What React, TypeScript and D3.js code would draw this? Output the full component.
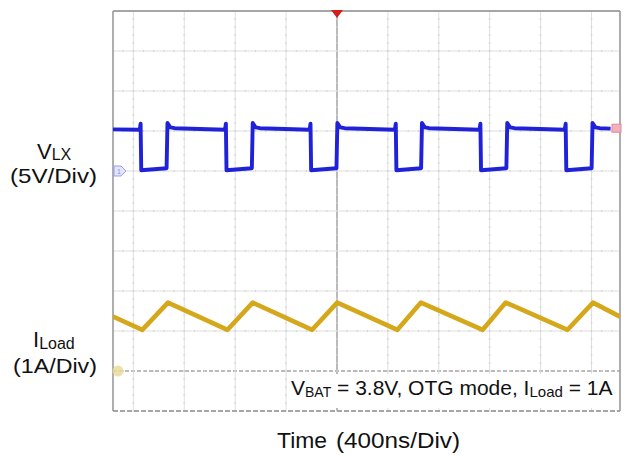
import React from 'react';
import * as d3 from 'd3';

// switching edges of V_LX, in ns from the trigger
const lxFallTimes = [-1540, -870, -205, 465, 1130, 1800];
const lxRiseTimes = [-1335, -665, 0, 665, 1335, 2005];
// V_LX levels in volts
const lxHighAfterRise = 5.35;
const lxHighBeforeFall = 5.15;
const lxSpike = 6.0;
const lxLowStart = 0.1;
const lxLowEnd = 0.35;
const lxTraceStart = -1760;
const lxTraceEnd = 2150;

// inductor current corners, ns and amps
const ilValleyTimes = [-1530, -860, -195, 475, 1145, 1812];
const ilPeakTimes = [-1328, -662, 2, 660, 1326, 2012];
const ilValley = 1.03;
const ilPeak = 1.71;
const ilStart = 1.36;
const ilEnd = 1.36;

// screen divisions
const timeGrid = [-1600, -1200, -800, -400, 0, 400, 800, 1200, 1600, 2000];
const divGrid = [-4, -3, -2, -1, 0, 1, 2, 3, 4];

const W = 632;
const H = 456;
const PL = 113;
const PR = 620;
const PT = 11;
const PB = 411;

const x = d3.scaleLinear().domain([-1760, 2224]).range([PL, PR]);
const yDiv = d3.scaleLinear().domain([-5, 5]).range([PB, PT]);
const yV = (v: number) => yDiv(1 + v / 5); // 5V/div, ground on div +1
const yI = (a: number) => yDiv(-4 + a / 1); // 1A/div, ground on div -4

const font = 'Liberation Sans, Arial, sans-serif';

const lxPoints = (): [number, number][] => {
  const pts: [number, number][] = [[lxTraceStart, lxHighBeforeFall + 0.05]];
  lxFallTimes.forEach((f, i) => {
    const r = lxRiseTimes[i];
    pts.push([f - 10, lxHighBeforeFall]);
    pts.push([f - 3, lxSpike - 0.1]);
    pts.push([f + 2, lxLowStart]);
    pts.push([r - 4, lxLowEnd]);
    pts.push([r + 3, lxSpike]);
    pts.push([r + 25, lxHighAfterRise + 0.1]);
    pts.push([r + 60, lxHighAfterRise]);
  });
  pts.push([lxTraceEnd, lxHighAfterRise - 0.05]);
  return pts;
};

const ilPoints = (): [number, number][] => {
  const pts: [number, number][] = [[-1760, ilStart]];
  ilValleyTimes.forEach((t, i) => {
    pts.push([t, ilValley]);
    pts.push([ilPeakTimes[i], ilPeak]);
  });
  pts.push([2224, ilEnd]);
  return pts;
};

const lxLine = d3
  .line<[number, number]>()
  .x((d) => x(d[0]))
  .y((d) => yV(d[1]));

const ilLine = d3
  .line<[number, number]>()
  .x((d) => x(d[0]))
  .y((d) => yI(d[1]));

const App = () => {
  const minorT = d3.range(-1760, 2224, 80).filter((t) => t > -1760);
  const minorD = d3.range(-5, 5.01, 0.2);

  return (
    <svg
      width={W}
      height={H}
      style={{position: 'absolute', left: 0, top: 0, background: '#fff'}}
      fontFamily={font}>
      <defs>
        <clipPath id="plot">
          <rect x={PL} y={PT} width={PR - PL} height={PB - PT} />
        </clipPath>
      </defs>

      {/* grid */}
      {timeGrid.map((t) => (
        <line
          key={'vg' + t}
          x1={x(t)}
          x2={x(t)}
          y1={PT}
          y2={PB}
          stroke={t === 0 ? '#a9a9a9' : '#dedede'}
          strokeWidth={t === 0 ? 1.6 : 1}
        />
      ))}
      {divGrid.map((d) => (
        <line
          key={'hg' + d}
          x1={PL}
          x2={PR}
          y1={yDiv(d)}
          y2={yDiv(d)}
          stroke={d === -4 ? '#a4a4a4' : '#dedede'}
          strokeWidth={d === -4 ? 1.3 : 1}
          strokeDasharray={d === -4 ? '4 2' : undefined}
        />
      ))}
      {divGrid.map((d) =>
        minorT.map((t) => (
          <line
            key={'mh' + d + '_' + t}
            x1={x(t)}
            x2={x(t)}
            y1={yDiv(d) - 1}
            y2={yDiv(d) + 1}
            stroke="#d4d4d4"
          />
        )),
      )}
      {timeGrid.map((t) =>
        minorD.map((d) => (
          <line
            key={'mv' + t + '_' + d}
            x1={x(t) - 1}
            x2={x(t) + 1}
            y1={yDiv(d)}
            y2={yDiv(d)}
            stroke="#d4d4d4"
          />
        )),
      )}

      {/* frame */}
      <line x1={PL} x2={PR} y1={PT} y2={PT} stroke="#a6a6a6" strokeWidth={2} />
      <line
        x1={PL}
        x2={PR}
        y1={PB}
        y2={PB}
        stroke="#a6a6a6"
        strokeWidth={2}
        strokeDasharray="5 2"
      />
      <line x1={PL} x2={PL} y1={PT} y2={PB} stroke="#9a9a9a" strokeWidth={1.6} />
      <line x1={PR} x2={PR} y1={PT} y2={PB} stroke="#9a9a9a" strokeWidth={1.6} />

      {/* traces */}
      <g clipPath="url(#plot)">
        <path
          d={ilLine(ilPoints()) || ''}
          fill="none"
          stroke="#d5a81c"
          strokeWidth={4.6}
          strokeLinejoin="round"
        />
        <path
          d={lxLine(lxPoints()) || ''}
          fill="none"
          stroke="#1f22d8"
          strokeWidth={3.9}
          strokeLinejoin="round"
        />
      </g>

      {/* channel markers */}
      <path
        d={`M${PL + 1},${yV(0) - 5} L${PL + 8},${yV(0) - 5} L${PL + 13},${yV(0)} L${PL + 8},${yV(0) + 5} L${PL + 1},${yV(0) + 5} Z`}
        fill="#e4e6ff"
        stroke="#9a9cea"
        strokeWidth={1}
      />
      <text x={PL + 4} y={yV(0) + 2.5} fontSize={7} fill="#8a8ce0">
        1
      </text>
      <circle cx={PL + 5} cy={yI(0)} r={5.5} fill="#eadc9a" opacity={0.85} />
      <rect
        x={PR - 8}
        y={yV(lxHighAfterRise) - 4}
        width={9}
        height={8}
        fill="#f3b0bd"
        stroke="#de8b9a"
      />
      <path
        d={`M${x(0) - 6},${PT - 1} L${x(0) + 6},${PT - 1} L${x(0)},${PT + 7} Z`}
        fill="#d41e1e"
      />

      {/* note box */}
      <rect x={289} y={374} width={PR - 290} height={34} fill="#fff" />
      <text x={291} y={395} fontSize={21} fill="#111">
        V
        <tspan fontSize={14} dy={2}>
          BAT
        </tspan>
        <tspan dy={-2}> = 3.8V, OTG mode, I</tspan>
        <tspan fontSize={15} dy={2}>
          Load
        </tspan>
        <tspan dy={-2}> = 1A</tspan>
      </text>

      {/* left labels */}
      <text x={37} y={159} fontSize={22} fill="#111">
        V
        <tspan fontSize={16} dy={1}>
          LX
        </tspan>
      </text>
      <text
        x={10}
        y={183}
        fontSize={21}
        fill="#111"
        textLength={87}
        lengthAdjust="spacingAndGlyphs">
        (5V/Div)
      </text>
      <text x={33} y={347} fontSize={22} fill="#111">
        I
        <tspan fontSize={16} dy={2}>
          Load
        </tspan>
      </text>
      <text
        x={13}
        y={373}
        fontSize={21}
        fill="#111"
        textLength={84}
        lengthAdjust="spacingAndGlyphs">
        (1A/Div)
      </text>

      {/* time axis label */}
      <text
        x={277}
        y={448}
        fontSize={22}
        fill="#111"
        textLength={50}
        lengthAdjust="spacingAndGlyphs">
        Time
      </text>
      <text
        x={336}
        y={448}
        fontSize={22}
        fill="#111"
        textLength={124}
        lengthAdjust="spacingAndGlyphs">
        (400ns/Div)
      </text>
    </svg>
  );
};

export default App;
